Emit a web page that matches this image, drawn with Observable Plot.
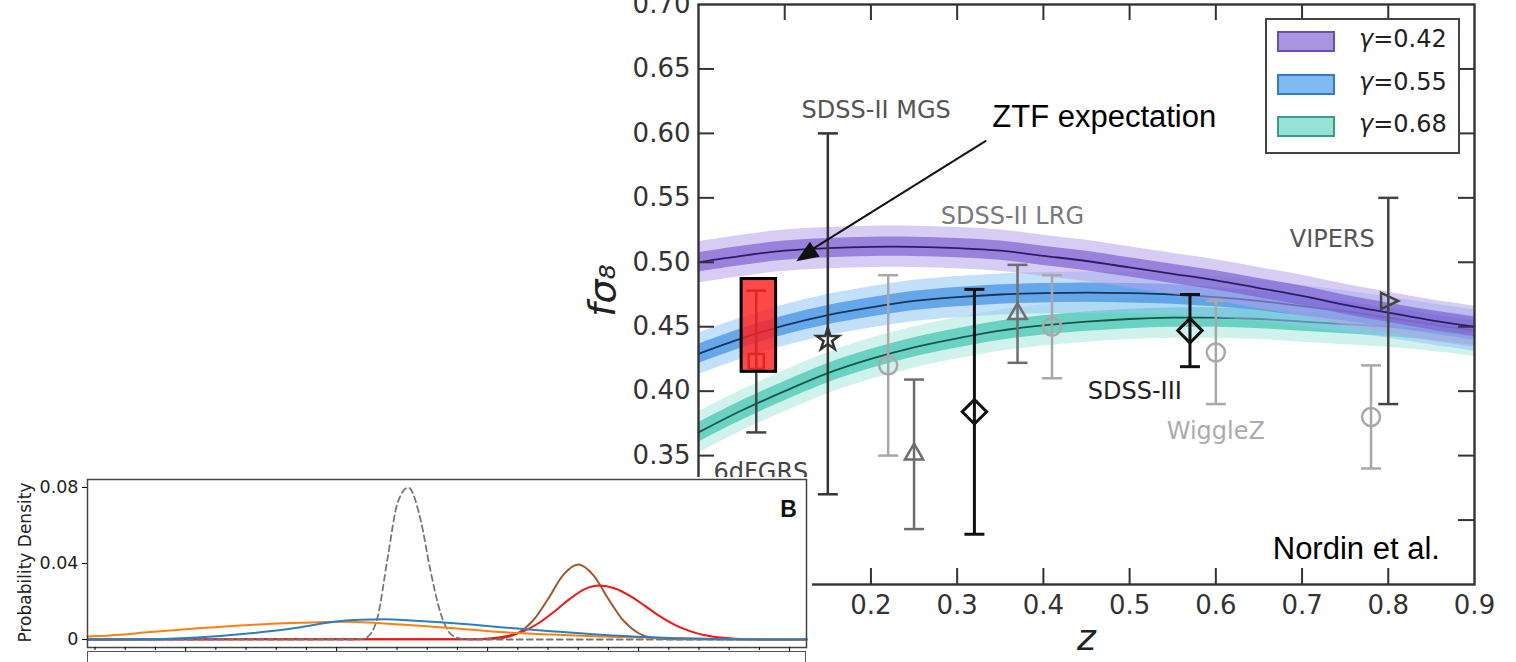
<!DOCTYPE html>
<html>
<head>
<meta charset="utf-8">
<script src="https://cdn.jsdelivr.net/npm/d3@7"></script>
<script src="https://cdn.jsdelivr.net/npm/@observablehq/plot@0.6"></script>
<style>
  html, body { margin: 0; padding: 0; background: #fff; overflow: hidden; }
  #wrap { position: relative; width: 1516px; height: 662px; overflow: hidden; background: #fff; }
  #main { position: absolute; left: 560px; top: 0; }
  #inset { position: absolute; left: 0; top: 477px; background: #fff; }
  #legend { position: absolute; left: 1265px; top: 18px; width: 195px; height: 136px; box-sizing: border-box;
            border: 2px solid #444; background: #fff; font-family: "DejaVu Sans", sans-serif; font-size: 24px; color: #222; }
  .lrow { position: absolute; left: 10px; height: 22px; }
  .sw { position: absolute; left: 0; top: 0; width: 58px; height: 21px; box-sizing: border-box; border: 2px solid; }
  .lt { position: absolute; left: 82px; top: -6px; white-space: nowrap; }
  #panelC { position: absolute; left: 87px; top: 651px; width: 719px; height: 30px; box-sizing: border-box;
            border: 1.5px solid #555; border-bottom: none; background: #fff; }
</style>
</head>
<body>
<div id="wrap">
  <div id="main"></div>
  <div id="legend"></div>
  <div id="inset"></div>
  <div id="panelC"></div>
</div>
<script>
// ---------------- main chart data (f sigma8 vs z) ----------------
const zGrid    = [0, 0.05, 0.10, 0.15, 0.20, 0.25, 0.30, 0.35, 0.40, 0.45, 0.50, 0.55, 0.60, 0.65, 0.70, 0.75, 0.80, 0.85, 0.90];
const fs8G042  = [0.500, 0.505, 0.509, 0.511, 0.512, 0.512, 0.511, 0.509, 0.505, 0.501, 0.496, 0.491, 0.486, 0.480, 0.474, 0.467, 0.461, 0.455, 0.450];
const fs8G055  = [0.429, 0.441, 0.451, 0.459, 0.465, 0.470, 0.473, 0.475, 0.476, 0.4765, 0.476, 0.475, 0.473, 0.470, 0.466, 0.462, 0.457, 0.452, 0.447];
const fs8G068  = [0.368, 0.385, 0.400, 0.414, 0.425, 0.434, 0.441, 0.447, 0.451, 0.454, 0.456, 0.457, 0.457, 0.456, 0.454, 0.452, 0.450, 0.447, 0.443];
const gammaLabels = ["γ=0.42", "γ=0.55", "γ=0.68"];
const bandInner = 0.0075;
const bandOuter = 0.016;

const pointSurvey = ["6dFGRS", "SDSS-II MGS", "WiggleZ", "SDSS-II LRG", "SDSS-III", "SDSS-II LRG", "WiggleZ", "SDSS-III", "WiggleZ", "WiggleZ", "VIPERS"];
const pointZ      = [0.067, 0.15, 0.22, 0.25, 0.32, 0.37, 0.41, 0.57, 0.60, 0.78, 0.80];
const pointFs8    = [0.423, 0.44, 0.42, 0.351, 0.384, 0.460, 0.45, 0.447, 0.43, 0.38, 0.47];
const pointLo     = [0.368, 0.32, 0.35, 0.293, 0.289, 0.422, 0.41, 0.419, 0.39, 0.34, 0.39];
const pointHi     = [0.478, 0.60, 0.49, 0.409, 0.479, 0.498, 0.49, 0.475, 0.47, 0.42, 0.55];

const ztfZ   = [0.05, 0.09];
const ztfFs8 = [0.415, 0.487];

const yTicks = [0.25, 0.30, 0.35, 0.40, 0.45, 0.50, 0.55, 0.60, 0.65, 0.70];
const xTicks = [0.1, 0.2, 0.3, 0.4, 0.5, 0.6, 0.7, 0.8, 0.9];

// ---------------- inset (panel B) data ----------------
const orangeU = [1.75, 2.19, 3.84, 5.50, 7.15, 8.81, 10.23, 12.12, 13.77, 15.43, 17.09, 18.74, 20.40, 22.05, 23.71, 25.56];
const orangeP = [0.0016, 0.0019, 0.0039, 0.0060, 0.0077, 0.0088, 0.0093, 0.0079, 0.0061, 0.0039, 0.0026, 0.0016, 0.0009, 0.0004, 0.0002, 0.0001];
const blueU   = [1.75, 3.84, 5.50, 7.15, 8.81, 9.80, 10.79, 11.62, 12.45, 13.44, 14.44, 15.43, 17.09, 18.74, 20.40, 22.05, 23.71, 25.56];
const blueP   = [0.0000, 0.0002, 0.0012, 0.0033, 0.0065, 0.0091, 0.0104, 0.0106, 0.0100, 0.0091, 0.0079, 0.0065, 0.0044, 0.0025, 0.0012, 0.0004, 0.0001, 0.0000];
const grayU   = [1.75, 10.50, 10.89, 11.13, 11.36, 11.69, 12.02, 12.38, 12.78, 13.11, 13.44, 13.77, 14.11, 14.44, 25.56];
const grayP   = [0, 0, 0.0005, 0.003, 0.012, 0.043, 0.072, 0.080, 0.063, 0.036, 0.014, 0.003, 0.0005, 0, 0];
const brownU  = [1.75, 15.0, 15.5, 16.0, 16.5, 17.0, 17.5, 18.0, 18.5, 19.0, 19.5, 20.0, 20.5, 21.0, 25.56];
const brownP  = [0, 0.0002, 0.0008, 0.0033, 0.0099, 0.0213, 0.0339, 0.0395, 0.0339, 0.0213, 0.0099, 0.0033, 0.0008, 0.0002, 0];
const redU    = [1.75, 14.7, 15.2, 15.7, 16.2, 16.7, 17.2, 17.7, 18.2, 18.7, 19.2, 19.7, 20.2, 20.7, 21.2, 21.7, 22.2, 22.7, 23.2, 23.7, 25.56];
const redP    = [0, 0.0002, 0.0008, 0.0020, 0.0045, 0.0087, 0.0146, 0.0211, 0.0264, 0.0284, 0.0270, 0.0231, 0.0178, 0.0123, 0.0077, 0.0044, 0.0022, 0.0010, 0.0004, 0.0001, 0];
const insetYTicks = [0, 0.04, 0.08];
const insetMinorTicks = [2, 3, 4, 6, 7, 8, 9, 11, 12, 13, 14, 16, 17, 18, 19, 21, 22, 23, 24];
const insetMajorTicks = [5, 10, 15, 20, 25];

// ---------------- styles ----------------
const gammaStyle = [
  {outer: "#b6a2ea", inner: "#7f62d2", line: "#2b1d63", swFill: "#a994e0", swStroke: "#6652b0"},
  {outer: "#92c6f5", inner: "#3e8fe2", line: "#15375f", swFill: "#7fbaf3", swStroke: "#3b78c2"},
  {outer: "#a9e7dd", inner: "#3ec5b1", line: "#17564c", swFill: "#97e2d7", swStroke: "#3b9a8c"}
];
const capSymbol = {draw(ctx, size) { const h = Math.sqrt(size / Math.PI); ctx.moveTo(-h, 0); ctx.lineTo(h, 0); }};
const triRight = {draw(ctx, size) { const s = Math.sqrt(size / Math.PI); ctx.moveTo(-0.8 * s, -0.9 * s); ctx.lineTo(1.1 * s, 0); ctx.lineTo(-0.8 * s, 0.9 * s); ctx.closePath(); }};
const surveyStyle = {
  "6dFGRS":      {stroke: "#444", symbol: "square",   r: 8.5, w: 2.5},
  "SDSS-II MGS": {stroke: "#333", symbol: "star",     r: 7, w: 2.5},
  "WiggleZ":     {stroke: "#a8a8a8", symbol: "circle", r: 9, w: 2.5},
  "SDSS-II LRG": {stroke: "#6e6e6e", symbol: "triangle", r: 6.8, w: 2.5},
  "SDSS-III":    {stroke: "#111", symbol: "diamond2", r: 11, w: 3},
  "VIPERS":      {stroke: "#444", symbol: triRight,   r: 9, w: 2.5}
};

// ---------------- build main chart ----------------
const gammaSeries = [fs8G042, fs8G055, fs8G068];
const bandMarks = [];
for (const i of [2, 1, 0]) {
  const rows = zGrid.map((z, j) => ({z, c: gammaSeries[i][j]}));
  const st = gammaStyle[i];
  bandMarks.push(
    Plot.areaY(rows, {x: "z", y1: d => d.c - bandOuter, y2: d => d.c + bandOuter, fill: st.outer, fillOpacity: 0.55, curve: "catmull-rom"}),
    Plot.areaY(rows, {x: "z", y1: d => d.c - bandInner, y2: d => d.c + bandInner, fill: st.inner, fillOpacity: 0.7, curve: "catmull-rom"}),
    Plot.line(rows, {x: "z", y: "c", stroke: st.line, strokeWidth: 1.8, curve: "catmull-rom"})
  );
}

const points = pointZ.map((z, i) => ({survey: pointSurvey[i], z, v: pointFs8[i], lo: pointLo[i], hi: pointHi[i]}));
const pointMarks = [];
for (const [name, st] of Object.entries(surveyStyle)) {
  const rows = points.filter(d => d.survey === name);
  pointMarks.push(
    Plot.ruleX(rows, {x: "z", y1: "lo", y2: "hi", stroke: st.stroke, strokeWidth: st.w}),
    Plot.dot(rows, {x: "z", y: "lo", symbol: capSymbol, r: 10, fill: "none", stroke: st.stroke, strokeWidth: st.w}),
    Plot.dot(rows, {x: "z", y: "hi", symbol: capSymbol, r: 10, fill: "none", stroke: st.stroke, strokeWidth: st.w}),
    Plot.dot(rows, {x: "z", y: "v", symbol: st.symbol, r: st.r, fill: "none", stroke: st.stroke, strokeWidth: st.w})
  );
}

const FW = 956 - 138 - 42;  // frame width
const FH = 662 - 4 - 78;    // frame height
const TL = 16;              // tick length
const labelFont = "DejaVu Sans";
const arialFont = "Liberation Sans, Arial, sans-serif";

const mainPlot = Plot.plot({
  width: 956,
  height: 662,
  marginLeft: 138,
  marginRight: 42,
  marginTop: 4,
  marginBottom: 78,
  x: {domain: [0, 0.9], label: null},
  y: {domain: [0.25, 0.70], label: null},
  style: {fontFamily: labelFont, background: "transparent", overflow: "visible"},
  marks: [
    ...bandMarks,
    ...pointMarks,
    Plot.rect([0], {x1: ztfZ[0], x2: ztfZ[1], y1: ztfFs8[0], y2: ztfFs8[1], fill: "#ff2020", fillOpacity: 0.82, stroke: "#000", strokeWidth: 3}),
    // annotations
    Plot.text(["SDSS-II MGS"], {x: 0.206, y: 0.618, fontSize: 24, fill: "#555"}),
    Plot.text(["SDSS-II LRG"], {x: 0.364, y: 0.536, fontSize: 24, fill: "#7a7a7a"}),
    Plot.text(["VIPERS"], {x: 0.735, y: 0.518, fontSize: 24, fill: "#555"}),
    Plot.text(["SDSS-III"], {x: 0.506, y: 0.400, fontSize: 24, fill: "#222"}),
    Plot.text(["WiggleZ"], {x: 0.600, y: 0.369, fontSize: 24, fill: "#ababab"}),
    Plot.text(["6dFGRS"], {x: 0.0174, y: 0.3374, fontSize: 24, fill: "#444", textAnchor: "start"}),
    Plot.text(["ZTF expectation"], {x: 0.3407, y: 0.6123, fontSize: 31, fill: "#000", textAnchor: "start", fontFamily: arialFont}),
    Plot.text(["Nordin et al."], {x: 0.666, y: 0.2699, fontSize: 31, fill: "#000", textAnchor: "start", lineAnchor: "bottom", fontFamily: arialFont}),
    Plot.link([0], {x1: 0.3337, y1: 0.5944, x2: 0.127, y2: 0.5080, stroke: "#111", strokeWidth: 2}),
    // frame & ticks
    Plot.frame({stroke: "#333", strokeWidth: 2.4}),
    Plot.tickY(yTicks.slice(1, -1), {y: d => d, insetRight: FW - TL, stroke: "#333", strokeWidth: 2}),
    Plot.tickY(yTicks.slice(1, -1), {y: d => d, insetLeft: FW - TL, stroke: "#333", strokeWidth: 2}),
    Plot.tickX(xTicks.slice(0, -1), {x: d => d, insetTop: FH - TL, stroke: "#333", strokeWidth: 2}),
    Plot.tickX(xTicks.slice(0, -1), {x: d => d, insetBottom: FH - TL, stroke: "#333", strokeWidth: 2}),
    Plot.axisY({ticks: yTicks, tickFormat: d3.format(".2f"), tickSize: 0, tickPadding: 8, fontSize: 26, fill: "#333", label: null}),
    Plot.axisX({ticks: xTicks, tickFormat: d3.format(".1f"), tickSize: 0, tickPadding: 11, fontSize: 26, fill: "#333", label: null}),
    Plot.text(["fσ₈"], {frameAnchor: "left", textAnchor: "middle", dx: -96, dy: -4, rotate: -90, fontSize: 38, fontStyle: "italic", fill: "#222"}),
    Plot.text(["z"], {frameAnchor: "bottom", textAnchor: "middle", dy: 65, fontSize: 36, fontStyle: "italic", fill: "#222"})
  ]
});
document.getElementById("main").appendChild(mainPlot);

// filled arrowhead computed through the plot's own scales
(function () {
  const sx = mainPlot.scale("x"), sy = mainPlot.scale("y");
  const x0 = sx.apply(0.3337), y0 = sy.apply(0.5944);
  const xt = sx.apply(0.114), yt = sy.apply(0.5005);
  const dx = xt - x0, dy = yt - y0, L = Math.hypot(dx, dy);
  const ux = dx / L, uy = dy / L, px = -uy, py = ux;
  const hl = 22, hw = 9;
  const bx = xt - ux * hl, by = yt - uy * hl;
  d3.select(mainPlot).append("polygon")
    .attr("points", [[xt, yt], [bx + px * hw, by + py * hw], [bx - px * hw, by - py * hw]].map(p => p.join(",")).join(" "))
    .attr("fill", "#111");
})();

// legend
const legend = document.getElementById("legend");
gammaLabels.forEach((lab, i) => {
  const row = document.createElement("div");
  row.className = "lrow";
  row.style.top = (11 + i * 42.5) + "px";
  row.innerHTML = `<div class="sw" style="background:${gammaStyle[i].swFill};border-color:${gammaStyle[i].swStroke}"></div>` +
                  `<div class="lt"><i>${lab.slice(0, 1)}</i>${lab.slice(1)}</div>`;
  legend.appendChild(row);
});

// ---------------- inset (panel B) ----------------
const toRows = (us, ps) => us.map((u, i) => ({u, p: ps[i]}));
const insetPlot = Plot.plot({
  width: 812,
  height: 185,
  marginLeft: 87,
  marginRight: 6,
  marginTop: 2,
  marginBottom: 15,
  x: {domain: [1.75, 25.56], label: null},
  y: {domain: [-0.0042, 0.0842], label: null},
  style: {fontFamily: labelFont, background: "#fff", overflow: "visible"},
  marks: [
    Plot.line(toRows(brownU, brownP), {x: "u", y: "p", stroke: "#a0582a", strokeWidth: 2, curve: "monotone-x"}),
    Plot.line(toRows(redU, redP), {x: "u", y: "p", stroke: "#f21515", strokeWidth: 2, curve: "monotone-x"}),
    Plot.line(toRows(grayU, grayP), {x: "u", y: "p", stroke: "#777", strokeWidth: 1.8, strokeDasharray: "6,4", curve: "monotone-x"}),
    Plot.line(toRows(orangeU, orangeP), {x: "u", y: "p", stroke: "#ff7f0e", strokeWidth: 2, curve: "monotone-x"}),
    Plot.line(toRows(blueU, blueP), {x: "u", y: "p", stroke: "#2a7fc0", strokeWidth: 2, curve: "monotone-x"}),
    Plot.frame({stroke: "#444", strokeWidth: 1.5}),
    Plot.axisY({ticks: insetYTicks, tickFormat: d => d === 0 ? "0" : d.toFixed(2), tickSize: 5, tickPadding: 4, fontSize: 17.5, fill: "#222", label: null}),
    Plot.axisX({ticks: insetMinorTicks, tickSize: 3, tickFormat: () => "", label: null}),
    Plot.axisX({ticks: insetMajorTicks, tickSize: 6, tickFormat: () => "", label: null}),
    Plot.text(["Probability Density"], {frameAnchor: "left", textAnchor: "middle", dx: -62, dy: -1, rotate: -90, fontSize: 17, fill: "#222"}),
    Plot.text(["B"], {frameAnchor: "top-right", textAnchor: "middle", dx: -18, dy: 21, fontSize: 23, fontWeight: "bold", fill: "#111", fontFamily: arialFont})
  ]
});
document.getElementById("inset").appendChild(insetPlot);
</script>
</body>
</html>
